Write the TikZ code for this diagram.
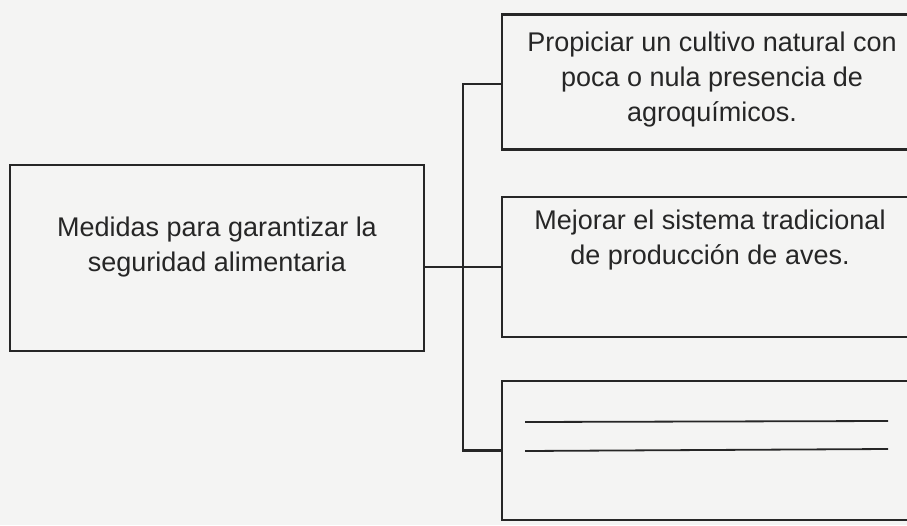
\documentclass[tikz,border=0pt]{standalone}
\usepackage{fontspec}
\setmainfont{Liberation Sans}
\definecolor{ink}{HTML}{262626}
\definecolor{paper}{HTML}{F4F4F3}
\begin{document}
\begin{tikzpicture}[x=1pt,y=-1pt,
  box/.style={draw=ink, line width=2.2pt, rectangle, inner sep=0pt},
  txt/.style={text=ink, align=center, font=\fontsize{27pt}{35pt}\selectfont, inner sep=0pt},
  conn/.style={draw=ink, line width=2.2pt}]
\useasboundingbox (0,0) rectangle (907,525);
\fill[paper] (0,0) rectangle (907,525);
\clip (0,0) rectangle (907,525);
% left box
\node[box, minimum width=414pt, minimum height=186pt] (main) at (217,258) {};
\node[txt] (maintxt) at (217,247) {Medidas para garantizar la\\seguridad alimentaria};
% right boxes
\node[box, minimum width=423pt, minimum height=135pt] (b1) at (713.5,82) {};
\node[txt] (b1txt) at (712,80) {Propiciar un cultivo natural con\\poca o nula presencia de\\agroquímicos.};
\node[box, minimum width=423pt, minimum height=140pt] (b2) at (713.5,267) {};
\node[txt] (b2txt) at (710,240) {Mejorar el sistema tradicional\\de producción de aves.};
\node[box, minimum width=423pt, minimum height=139pt] (b3) at (713.5,450.5) {};
% answer lines in the empty box
\coordinate (l1a) at (525,422); \coordinate (l1b) at (888,421);
\coordinate (l2a) at (525,451); \coordinate (l2b) at (888,449);
\draw[conn, line width=1.8pt] (l1a) -- (l1b);
\draw[conn, line width=1.8pt] (l2a) -- (l2b);
% connectors
\coordinate (bus) at (463,267);
\draw[conn] (main.east |- bus) -- (b2.west);
\draw[conn] (b1.west |- 0,84) -| (bus |- 0,84) |- (b3.west);
\end{tikzpicture}
\end{document}
